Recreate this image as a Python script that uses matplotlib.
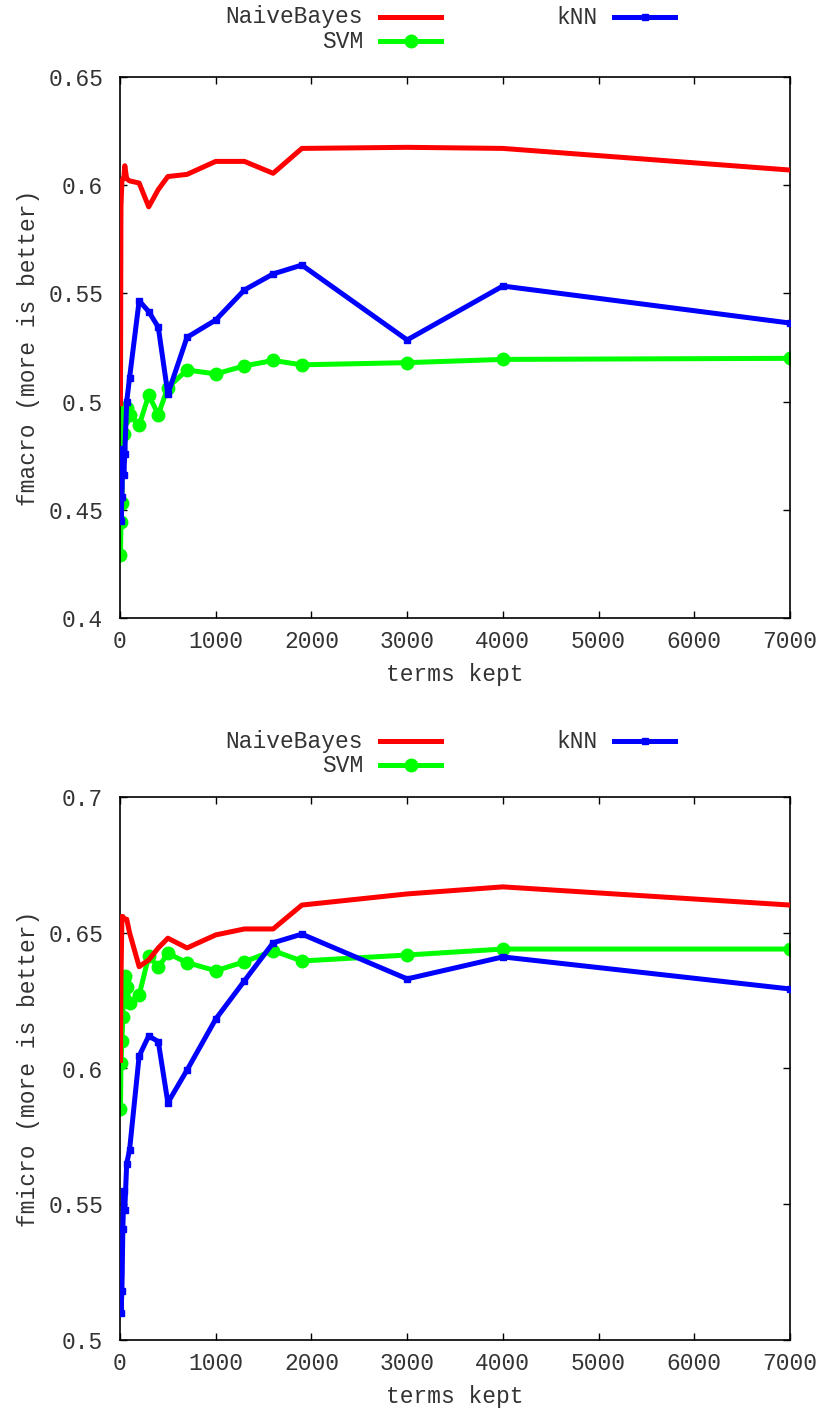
import matplotlib
matplotlib.use("Agg")
import matplotlib.pyplot as plt
from matplotlib.lines import Line2D

plt.rcParams['font.family'] = ['Liberation Mono', 'DejaVu Sans Mono']

# number of terms kept after feature selection
terms = [5, 10, 20, 30, 40, 50, 70, 100, 200, 300, 400, 500, 700, 1000,
         1300, 1600, 1900, 3000, 4000, 7000]

# macro-averaged F1
nb_macro = [0.499, 0.590, 0.602, 0.603, 0.603, 0.609, 0.603, 0.602, 0.601, 0.590,
            0.598, 0.604, 0.605, 0.611, 0.611, 0.6055, 0.617, 0.6175, 0.617, 0.607]
knn_macro = [0.461, 0.445, 0.456, 0.478, 0.466, 0.476, 0.500, 0.511, 0.5466, 0.5416,
             0.5344, 0.5035, 0.5297, 0.5377, 0.5516, 0.559, 0.5631, 0.5285, 0.5534, 0.5363]
svm_macro = [0.429, 0.4445, 0.453, 0.4915, 0.485, 0.497, 0.497, 0.494, 0.489, 0.503,
             0.494, 0.5065, 0.5146, 0.5128, 0.5165, 0.519, 0.517, 0.518, 0.5195, 0.520]

# micro-averaged F1
nb_micro = [0.603, 0.632, 0.656, 0.656, 0.655, 0.655, 0.655, 0.650, 0.6375, 0.640,
            0.6444, 0.648, 0.6444, 0.6492, 0.6514, 0.6514, 0.6602, 0.6643, 0.6669, 0.6602]
knn_micro = [0.525, 0.510, 0.518, 0.541, 0.555, 0.548, 0.565, 0.570, 0.6046, 0.612,
             0.6099, 0.5874, 0.5994, 0.6182, 0.6323, 0.6463, 0.6495, 0.633, 0.6411, 0.6293]
svm_micro = [0.585, 0.602, 0.610, 0.619, 0.633, 0.634, 0.630, 0.624, 0.627, 0.6414,
             0.6373, 0.6424, 0.639, 0.636, 0.6393, 0.6434, 0.6396, 0.6418, 0.644, 0.644]

RED = '#ff0000'
GREEN = '#00ff00'
BLUE = '#0000ff'
TXT = '#333333'
FS = 16.5
W, H = 822, 1414

fig = plt.figure(figsize=(W / 100, H / 100), dpi=100)


def px_box(left, top, right, bottom):
    return [left / W, 1 - bottom / H, (right - left) / W, (bottom - top) / H]


def draw_key(y1, y2):
    # gnuplot-style key: right aligned labels followed by a line sample
    rows = [("NaiveBayes", RED, None, 0, 363, 380, 441, y1),
            ("SVM", GREEN, 'o', 9, 363, 380, 441, y2),
            ("kNN", BLUE, 's', 5, 598, 614, 675, y1)]
    for label, col, mk, ms, tx, l0, l1, y in rows:
        fig.text(tx / W, 1 - y / H, label, ha='right', va='center',
                 fontsize=FS, color=TXT)
        fig.add_artist(Line2D([l0 / W, l1 / W], [1 - y / H, 1 - y / H],
                              color=col, lw=3.6, transform=fig.transFigure))
        if mk:
            xm = (l0 + l1) / 2 / W
            fig.add_artist(Line2D([xm], [1 - y / H], color=col, marker=mk, ms=ms,
                                  transform=fig.transFigure))


def panel(box, nb, knn, svm, ylim, yticks, ylabel):
    ax = fig.add_axes(box)
    ax.plot(terms, nb, color=RED, lw=3.6, zorder=3)
    ax.plot(terms, svm, color=GREEN, lw=3.6, marker='o', ms=9, zorder=2)
    ax.plot(terms, knn, color=BLUE, lw=3.6, marker='s', ms=5, zorder=4)
    ax.set_xlim(0, 7000)
    ax.set_ylim(*ylim)
    ax.set_xticks(range(0, 7001, 1000))
    ax.set_yticks(yticks)
    ax.set_yticklabels([f"{v:g}" for v in yticks])
    ax.tick_params(direction='in', length=5, width=1, top=True, right=True,
                   labelsize=FS, labelcolor=TXT)
    ax.tick_params(axis='x', pad=9)
    ax.tick_params(axis='y', pad=12)
    for s in ax.spines.values():
        s.set_linewidth(1.2)
    ax.set_xlabel("terms kept", fontsize=FS, color=TXT, labelpad=7)
    ax.set_ylabel(ylabel, fontsize=FS, color=TXT, labelpad=6)
    return ax


panel(px_box(120, 77, 790, 618), nb_macro, knn_macro, svm_macro,
      (0.4, 0.65), [0.4, 0.45, 0.5, 0.55, 0.6, 0.65], "fmacro (more is better)")
draw_key(17, 41)

panel(px_box(120, 797, 790, 1340), nb_micro, knn_micro, svm_micro,
      (0.5, 0.7), [0.5, 0.55, 0.6, 0.65, 0.7], "fmicro (more is better)")
draw_key(741, 765)

fig.savefig("out.png", dpi=100)
